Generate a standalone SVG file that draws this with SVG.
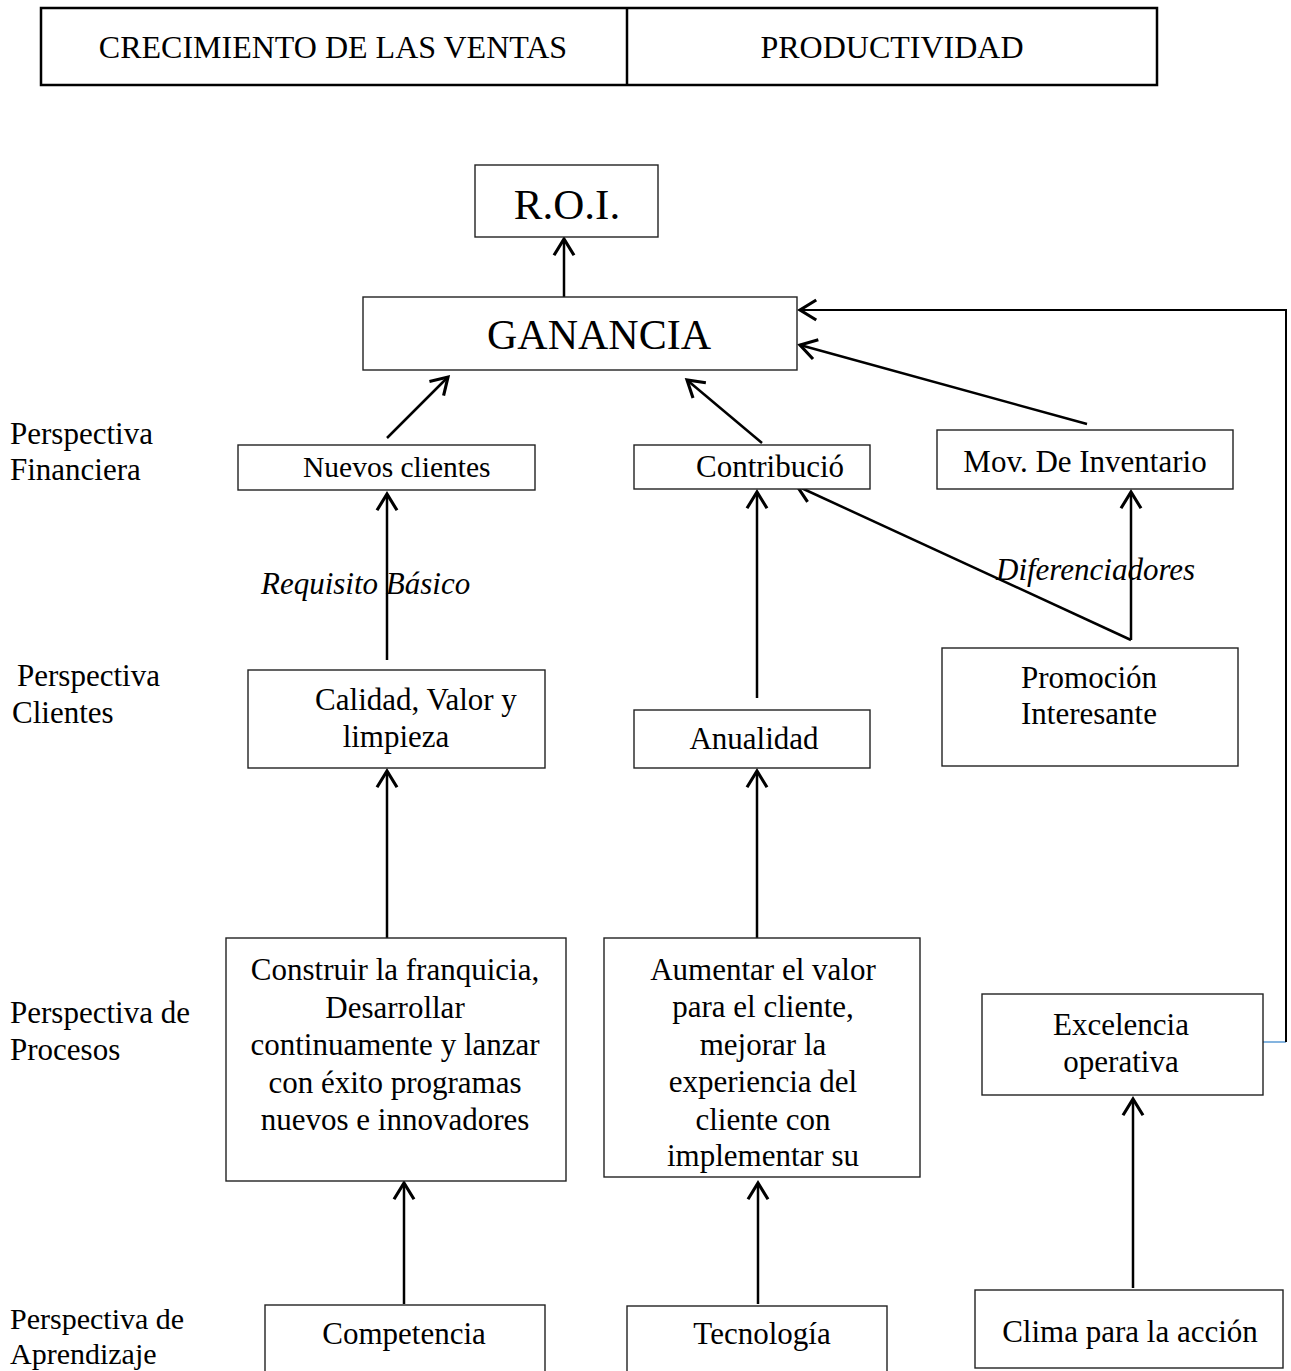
<svg xmlns="http://www.w3.org/2000/svg" width="1291" height="1371" viewBox="0 0 1291 1371">
<style>
text{font-family:"Liberation Serif","Times New Roman",serif;font-size:31px;fill:#000}
.c{text-anchor:middle}
.i{font-style:italic}
.box{fill:#fff;stroke:#222;stroke-width:1.4}
.ln{fill:none;stroke:#000;stroke-width:2.5}
</style>
<defs>
<marker id="a" markerUnits="userSpaceOnUse" markerWidth="30" markerHeight="30" viewBox="-16 -12 20 24" refX="0" refY="0" orient="auto">
<path d="M-13,-8 L0,0 L-13,8" fill="none" stroke="#000" stroke-width="2.5"/>
</marker>
</defs>
<rect width="1291" height="1371" fill="#fff"/>

<g id="header">
<rect x="41" y="8" width="1116" height="77" fill="#fff" stroke="#000" stroke-width="2.5"/>
<line x1="627" y1="8" x2="627" y2="85" stroke="#000" stroke-width="2.5"/>
<text class="c" x="333" y="58" style="font-size:32px">CRECIMIENTO DE LAS VENTAS</text>
<text class="c" x="892" y="58" style="font-size:32px">PRODUCTIVIDAD</text>
</g>

<g id="labels">
<text x="10" y="444">Perspectiva</text>
<text x="10" y="480">Financiera</text>
<text x="17" y="686">Perspectiva</text>
<text x="12" y="723">Clientes</text>
<text x="10" y="1023">Perspectiva de</text>
<text x="10" y="1060">Procesos</text>
<text x="10" y="1329" style="font-size:30px">Perspectiva de</text>
<text x="10" y="1364" style="font-size:30px">Aprendizaje</text>
</g>

<g id="connectors">
<line class="ln" x1="564" y1="297" x2="564" y2="239" marker-end="url(#a)"/>
<polyline class="ln" points="1263,1042 1286,1042" style="stroke:#5b9bd5;stroke-width:1.5"/>
<polyline class="ln" points="1286,1042 1286,310 800,310" marker-end="url(#a)" style="stroke-width:2"/>
<line class="ln" x1="1087" y1="424" x2="800" y2="345" marker-end="url(#a)"/>
<line class="ln" x1="387" y1="438" x2="448" y2="377" marker-end="url(#a)"/>
<line class="ln" x1="762" y1="443" x2="687" y2="380" marker-end="url(#a)"/>
<line class="ln" x1="387" y1="660" x2="387" y2="494" marker-end="url(#a)"/>
<line class="ln" x1="757" y1="698" x2="757" y2="492" marker-end="url(#a)"/>
<line class="ln" x1="1131" y1="640" x2="797" y2="486" marker-end="url(#a)"/>
<line class="ln" x1="1131" y1="640" x2="1131" y2="492" marker-end="url(#a)"/>
<line class="ln" x1="387" y1="938" x2="387" y2="771" marker-end="url(#a)"/>
<line class="ln" x1="757" y1="938" x2="757" y2="771" marker-end="url(#a)"/>
<line class="ln" x1="404" y1="1304" x2="404" y2="1183" marker-end="url(#a)"/>
<line class="ln" x1="758" y1="1304" x2="758" y2="1183" marker-end="url(#a)"/>
<line class="ln" x1="1133" y1="1288" x2="1133" y2="1099" marker-end="url(#a)"/>
<text class="i" x="261" y="594">Requisito Básico</text>
<text class="i" x="996" y="580">Diferenciadores</text>
</g>

<g id="roi">
<rect class="box" x="475" y="165" width="183" height="72"/>
<text class="c" x="567" y="219" style="font-size:43px">R.O.I.</text>
</g>

<g id="ganancia">
<rect class="box" x="363" y="297" width="434" height="73"/>
<text class="c" x="599" y="349" style="font-size:42px">GANANCIA</text>
</g>

<g id="nuevos">
<rect class="box" x="238" y="445" width="297" height="45"/>
<text x="303" y="477" style="font-size:29.5px">Nuevos clientes</text>
</g>

<g id="contribucion">
<rect class="box" x="634" y="445" width="236" height="44"/>
<text x="696" y="477">Contribució</text>
</g>

<g id="inventario">
<rect class="box" x="937" y="430" width="296" height="59"/>
<text class="c" x="1085" y="472">Mov. De Inventario</text>
</g>

<g id="calidad">
<rect class="box" x="248" y="670" width="297" height="98"/>
<text class="c" x="416" y="710">Calidad, Valor y</text>
<text class="c" x="396" y="747">limpieza</text>
</g>

<g id="anualidad">
<rect class="box" x="634" y="710" width="236" height="58"/>
<text class="c" x="754" y="749">Anualidad</text>
</g>

<g id="promocion">
<rect class="box" x="942" y="648" width="296" height="118"/>
<text class="c" x="1089" y="688">Promoción</text>
<text class="c" x="1089" y="724">Interesante</text>
</g>

<g id="construir">
<rect class="box" x="226" y="938" width="340" height="243"/>
<text class="c" x="395" y="980">Construir la franquicia,</text>
<text class="c" x="395" y="1018">Desarrollar</text>
<text class="c" x="395" y="1055">continuamente y lanzar</text>
<text class="c" x="395" y="1093">con éxito programas</text>
<text class="c" x="395" y="1130">nuevos e innovadores</text>
</g>

<g id="aumentar">
<rect class="box" x="604" y="938" width="316" height="239"/>
<text class="c" x="763" y="980">Aumentar el valor</text>
<text class="c" x="763" y="1017">para el cliente,</text>
<text class="c" x="763" y="1055">mejorar la</text>
<text class="c" x="763" y="1092">experiencia del</text>
<text class="c" x="763" y="1130">cliente con</text>
<text class="c" x="763" y="1166">implementar su</text>
</g>

<g id="excelencia">
<rect class="box" x="982" y="994" width="281" height="101"/>
<text class="c" x="1121" y="1035">Excelencia</text>
<text class="c" x="1121" y="1072">operativa</text>
</g>

<g id="competencia">
<rect class="box" x="265" y="1305" width="280" height="80"/>
<text class="c" x="404" y="1344">Competencia</text>
</g>

<g id="tecnologia">
<rect class="box" x="627" y="1306" width="260" height="80"/>
<text class="c" x="762" y="1344">Tecnología</text>
</g>

<g id="clima">
<rect class="box" x="975" y="1290" width="308" height="78"/>
<text class="c" x="1130" y="1342">Clima para la acción</text>
</g>
</svg>
